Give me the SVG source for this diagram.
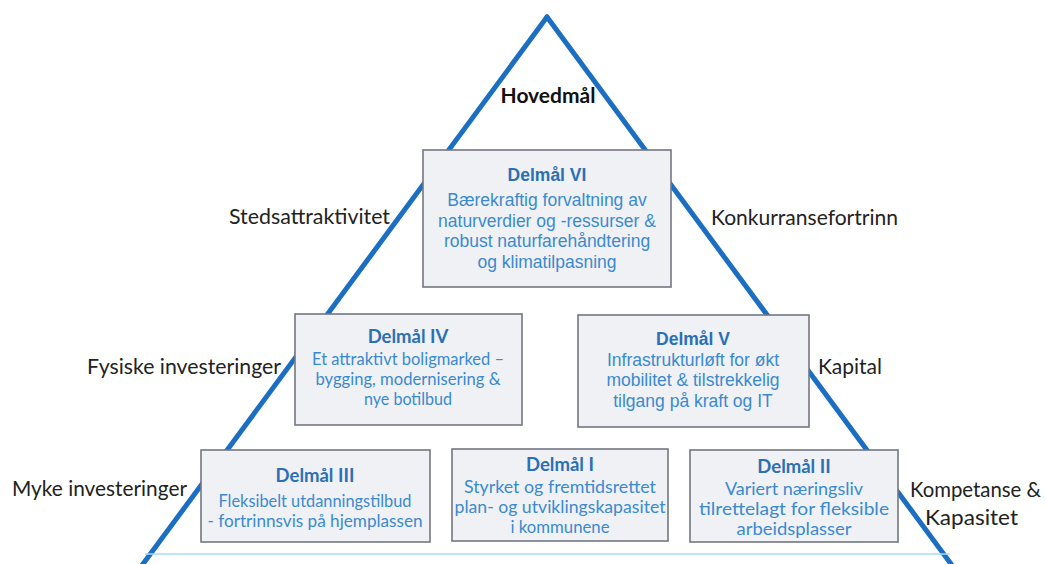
<svg xmlns="http://www.w3.org/2000/svg" width="1046" height="564" viewBox="0 0 1046 564">
<style>
.box{fill:#f0f1f4;stroke:#737780;stroke-width:1.6}
.ta{font-family:"Liberation Sans",Arial,sans-serif;font-size:17.5px;text-anchor:middle}
.tc{font-family:Lato,"Open Sans",sans-serif;font-size:17.5px;text-anchor:middle}
.ttl{font-weight:bold;fill:#2b70b4}
.tc.ttl{font-size:18.5px}
.body{fill:#3a8ad0}
.lbl{font-family:Lato,"Open Sans",sans-serif;font-size:21px;fill:#222}
.edge{stroke:#1b6ec2;stroke-width:5;fill:none;stroke-linecap:round}
</style>
<rect width="1046" height="564" fill="#fff"/>
<g id="connectors">
<line class="edge" x1="547" y1="17" x2="140" y2="568"/>
<line class="edge" x1="547" y1="17" x2="954" y2="568"/>
<line x1="145" y1="554" x2="950" y2="554" stroke="#a8dcf0" stroke-width="1.5"/>
</g>
<g id="hovedmal">
<text x="548" y="103" class="lbl" style="font-weight:bold;font-size:21px;fill:#111" text-anchor="middle">Hovedmål</text>
</g>
<g id="labels">
<text class="lbl" x="229" y="224" textLength="161" lengthAdjust="spacingAndGlyphs">Stedsattraktivitet</text>
<text class="lbl" x="711" y="225" textLength="187" lengthAdjust="spacingAndGlyphs">Konkurransefortrinn</text>
<text class="lbl" x="87" y="374" textLength="194" lengthAdjust="spacingAndGlyphs">Fysiske investeringer</text>
<text class="lbl" x="818" y="374" textLength="64" lengthAdjust="spacingAndGlyphs">Kapital</text>
<text class="lbl" x="12" y="496" textLength="175" lengthAdjust="spacingAndGlyphs">Myke investeringer</text>
<text class="lbl" x="910" y="497" textLength="131" lengthAdjust="spacingAndGlyphs">Kompetanse &amp;</text>
<text class="lbl" x="925" y="525" textLength="93" lengthAdjust="spacingAndGlyphs">Kapasitet</text>
</g>
<g id="delmal-vi">
<rect class="box" x="423" y="150" width="248" height="137"/>
<text class="ta ttl" x="547" y="181">Delmål VI</text>
<text class="ta body" x="547" y="206">Bærekraftig forvaltning av</text>
<text class="ta body" x="547" y="227">naturverdier og -ressurser &amp;</text>
<text class="ta body" x="547" y="247">robust naturfarehåndtering</text>
<text class="ta body" x="547" y="268">og klimatilpasning</text>
</g>
<g id="delmal-iv">
<rect class="box" x="295" y="314" width="227" height="111"/>
<text class="tc ttl" x="408" y="343">Delmål IV</text>
<text class="tc body" x="408" y="365" textLength="192" lengthAdjust="spacingAndGlyphs">Et attraktivt boligmarked –</text>
<text class="tc body" x="408" y="385" textLength="185" lengthAdjust="spacingAndGlyphs">bygging, modernisering &amp;</text>
<text class="tc body" x="408" y="405" textLength="88" lengthAdjust="spacingAndGlyphs">nye botilbud</text>
</g>
<g id="delmal-v">
<rect class="box" x="578" y="315" width="231" height="112"/>
<text class="ta ttl" x="693" y="345">Delmål V</text>
<text class="ta body" x="693" y="366">Infrastrukturløft for økt</text>
<text class="ta body" x="693" y="386">mobilitet &amp; tilstrekkelig</text>
<text class="ta body" x="693" y="407">tilgang på kraft og IT</text>
</g>
<g id="delmal-iii">
<rect class="box" x="201" y="450" width="229" height="92"/>
<text class="tc ttl" x="315" y="482">Delmål III</text>
<text class="tc body" x="315" y="507" textLength="193" lengthAdjust="spacingAndGlyphs">Fleksibelt utdanningstilbud</text>
<text class="tc body" x="315" y="527" textLength="215" lengthAdjust="spacingAndGlyphs">- fortrinnsvis på hjemplassen</text>
</g>
<g id="delmal-i">
<rect class="box" x="452" y="449" width="216" height="92"/>
<text class="tc ttl" x="560" y="471">Delmål I</text>
<text class="tc body" x="560" y="493" textLength="192" lengthAdjust="spacingAndGlyphs">Styrket og fremtidsrettet</text>
<text class="tc body" x="560" y="513" textLength="211" lengthAdjust="spacingAndGlyphs">plan- og utviklingskapasitet</text>
<text class="tc body" x="560" y="533" textLength="99" lengthAdjust="spacingAndGlyphs">i kommunene</text>
</g>
<g id="delmal-ii">
<rect class="box" x="690" y="450" width="208" height="92"/>
<text class="tc ttl" x="794" y="473">Delmål II</text>
<text class="tc body" x="794" y="495" textLength="138" lengthAdjust="spacingAndGlyphs">Variert næringsliv</text>
<text class="tc body" x="794" y="515" textLength="190" lengthAdjust="spacingAndGlyphs">tilrettelagt for fleksible</text>
<text class="tc body" x="794" y="535" textLength="115" lengthAdjust="spacingAndGlyphs">arbeidsplasser</text>
</g>
</svg>
